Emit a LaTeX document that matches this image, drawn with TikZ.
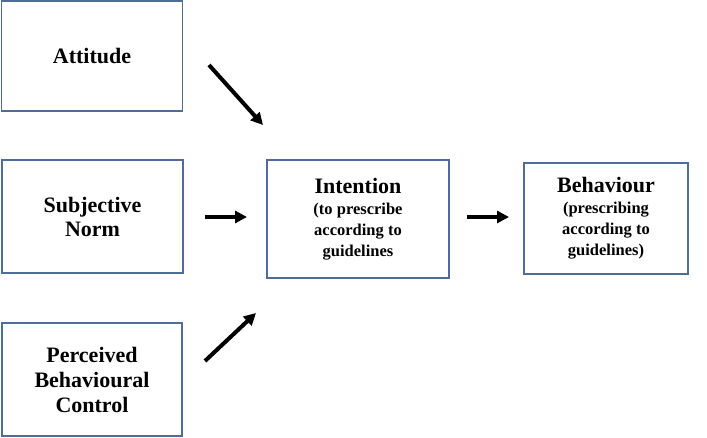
\documentclass[tikz,border=0pt]{standalone}
\usepackage{fontspec}
\setmainfont{Liberation Serif}
\usetikzlibrary{arrows.meta}
\definecolor{boxblue}{HTML}{4F6D9A}
\begin{document}
\begin{tikzpicture}[x=1pt,y=-1pt,
  box/.style={draw=boxblue,line width=1.1pt,rectangle,inner sep=0pt,align=center,
    font=\bfseries\fontsize{22}{24}\selectfont},
  arr/.style={line width=4pt,-{Triangle[length=12pt,width=12pt]}}]
\newcommand{\subtxt}[1]{{\bfseries\fontsize{16.5}{17}\selectfont #1}}
\useasboundingbox (0,0) rectangle (707,437);
\node[box,minimum width=181pt,minimum height=110pt] (att) at (92,56) {Attitude};
\node[box,minimum width=181pt,minimum height=113pt] (sn) at (92.5,216.5) {Subjective\\Norm};
\node[box,minimum width=180pt,minimum height=113pt,font=\bfseries\fontsize{22}{25}\selectfont] (pbc) at (92,379.5) {Perceived\\Behavioural\\Control};
\node[box,minimum width=182pt,minimum height=118pt] (int) at (358,219)
  {Intention\\[-3pt]\subtxt{(to prescribe}\\[-3pt]\subtxt{according to}\\[-3pt]\subtxt{guidelines}};
\node[box,minimum width=164pt,minimum height=111pt] (beh) at (606,218.5)
  {Behaviour\\[-3pt]\subtxt{(prescribing}\\[-3pt]\subtxt{according to}\\[-3pt]\subtxt{guidelines)}};
\coordinate (a1) at (209,65);
\coordinate (a2) at (263,125);
\coordinate (s1) at (205,217);
\coordinate (s2) at (247,217);
\coordinate (p1) at (205,361);
\coordinate (p2) at (256,313);
\coordinate (i1) at (467,217);
\coordinate (i2) at (509,217);
\draw[arr] (a1) -- (a2);
\draw[arr] (s1) -- (s2);
\draw[arr] (p1) -- (p2);
\draw[arr] (i1) -- (i2);
\end{tikzpicture}
\end{document}
